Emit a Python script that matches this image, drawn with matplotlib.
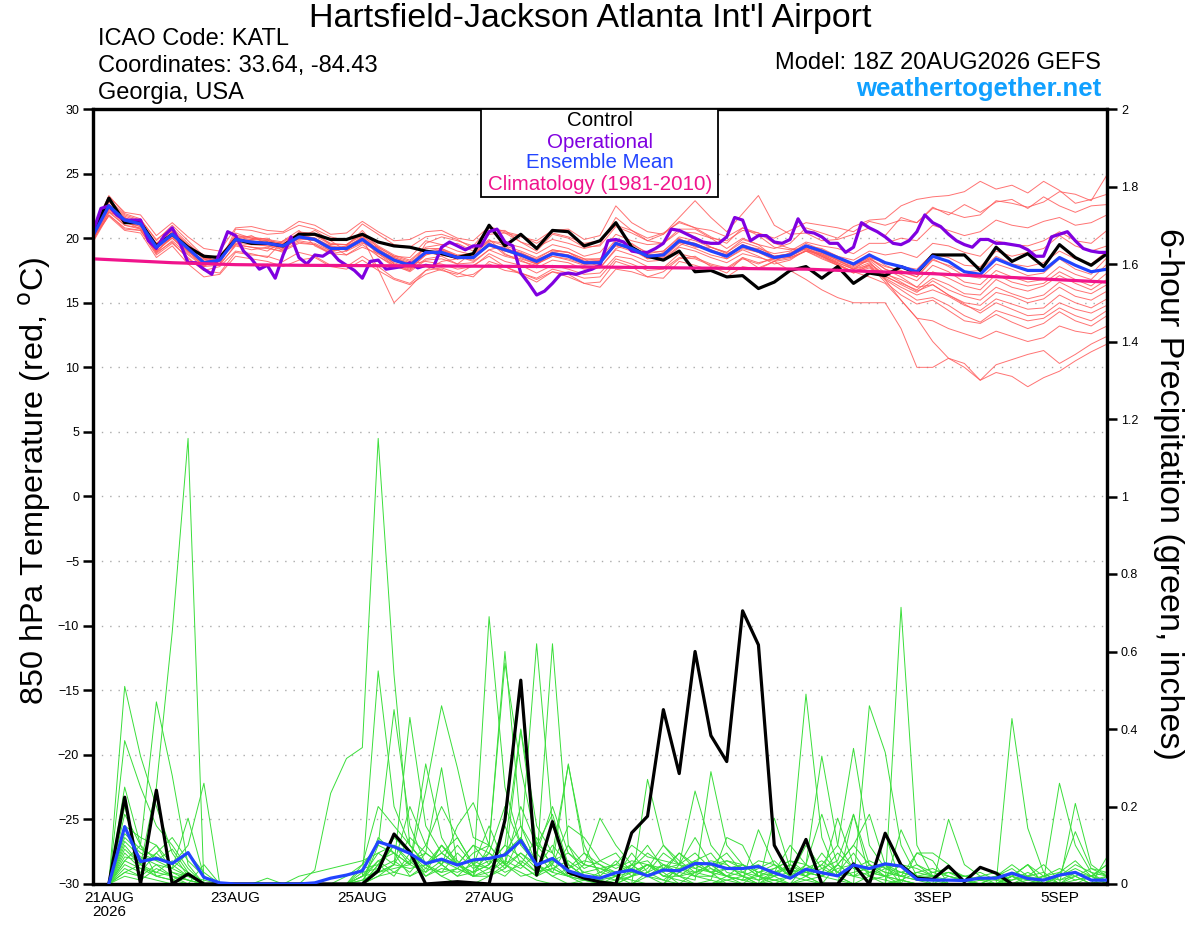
import numpy as np
import pandas as pd
import matplotlib
matplotlib.use('Agg')
from matplotlib import pyplot as plt
from matplotlib.patches import Rectangle

plt.rcParams['font.family'] = ['Liberation Sans', 'DejaVu Sans']

# valid times
t_temp = pd.date_range('2026-08-20 18:00', periods=65, freq='6h')
t_oper = pd.date_range('2026-08-20 18:00', periods=129, freq='3h')
t_prec = pd.date_range('2026-08-21 00:00', periods=64, freq='6h')

tick_dates = pd.to_datetime(['2026-08-21', '2026-08-23', '2026-08-25', '2026-08-27',
                             '2026-08-29', '2026-09-01', '2026-09-03', '2026-09-05'])
tick_labels = ['21AUG\n2026', '23AUG', '25AUG', '27AUG', '29AUG', '1SEP', '3SEP', '5SEP']

# 850 hPa temperature (C)
control_t = [20.3, 23.1, 21.2, 21.2, 19.4, 20.3, 19.3, 18.6, 18.5, 19.9, 19.6, 19.6, 19.4,
             20.3, 20.3, 19.9, 19.9, 20.3, 19.7, 19.4, 19.3, 19.0, 18.8, 18.5, 18.8, 21.0,
             19.4, 20.3, 19.2, 20.6, 20.5, 19.4, 19.8, 21.2, 19.3, 18.6, 18.3, 19.0, 17.4,
             17.5, 17.0, 17.1, 16.1, 16.6, 17.5, 17.8, 16.9, 17.8, 16.5, 17.3, 17.1, 17.8,
             17.3, 18.7, 18.7, 18.7, 17.5, 19.3, 18.2, 18.8, 17.8, 19.5, 18.5, 17.9, 18.8]
mean_t = [20.2, 22.5, 21.4, 21.1, 19.3, 20.3, 19.2, 18.1, 18.3, 19.9, 19.7, 19.6, 19.4,
          20.1, 19.9, 19.2, 19.2, 19.9, 19.0, 18.3, 17.9, 18.9, 18.9, 18.5, 18.5, 19.5,
          19.1, 18.7, 18.2, 18.8, 18.6, 18.1, 18.1, 19.6, 19.2, 18.6, 18.7, 19.8, 19.5,
          19.0, 18.6, 19.4, 19.0, 18.5, 18.7, 19.4, 19.0, 18.5, 18.0, 18.7, 18.1, 17.8,
          17.4, 18.6, 18.2, 17.4, 17.2, 18.4, 17.9, 17.5, 17.5, 18.5, 17.9, 17.4, 17.6]
oper_t = [20.5, 22.3, 22.5, 21.8, 21.4, 21.4, 21.4, 19.8, 19.2, 20.2, 20.8, 19.6, 18.1,
          18.1, 17.6, 17.2, 18.9, 20.5, 20.2, 19.0, 18.4, 17.6, 17.9, 16.9, 18.7, 20.1,
          18.5, 18.0, 18.7, 18.6, 19.0, 18.3, 17.9, 17.5, 16.9, 18.2, 18.3, 17.6, 17.7,
          17.8, 18.1, 17.7, 17.9, 17.8, 19.3, 19.7, 19.4, 19.1, 19.4, 19.4, 20.5, 20.7,
          19.7, 19.4, 17.3, 16.5, 15.6, 15.9, 16.5, 17.2, 17.3, 17.2, 17.4, 17.6, 17.9,
          19.8, 19.9, 19.7, 19.0, 18.9, 18.9, 19.2, 19.6, 20.7, 20.6, 20.3, 20.0, 19.7,
          19.6, 19.6, 20.1, 21.6, 21.4, 19.8, 20.2, 20.2, 19.7, 19.6, 19.9, 21.5, 20.5,
          20.4, 20.1, 19.6, 19.6, 18.9, 19.3, 21.2, 20.8, 20.5, 20.1, 19.6, 19.5, 19.8,
          20.5, 21.8, 21.2, 20.9, 20.3, 19.8, 19.5, 19.3, 19.9, 19.9, 19.6, 19.6, 19.5,
          19.4, 19.1, 18.6, 18.6, 20.1, 20.3, 20.5, 19.8, 19.2, 19.0, 18.9, 18.9]
clim_dates = pd.to_datetime(['2026-08-20 18:00', '2026-08-22 00:00', '2026-08-23 00:00',
                             '2026-08-24 00:00', '2026-08-26 00:00', '2026-08-28 00:00',
                             '2026-08-30 00:00', '2026-09-01 00:00', '2026-09-03 00:00',
                             '2026-09-05 18:00'])
clim_t = [18.4, 18.1, 17.95, 17.9, 17.85, 17.8, 17.7, 17.6, 17.25, 16.6]

members_t = [
    [20.4, 22.8, 21.6, 21.0, 19.6, 20.6, 19.5, 18.4, 18.0, 20.2, 20.1, 19.9, 19.0, 20.5, 20.3, 19.6, 19.5, 20.4, 19.4, 18.7, 18.3,
     19.3, 19.5, 19.0, 18.7, 19.8, 19.6, 19.3, 18.8, 19.5, 19.2, 18.6, 18.9, 20.3, 19.8, 19.5, 19.6, 20.5, 20.4, 20.0, 19.8, 20.6, 20.4,
     20.0, 20.6, 21.2, 21.0, 20.8, 20.5, 21.3, 21.0, 21.4, 21.2, 22.3, 22.0, 21.6, 21.8, 22.9, 22.7, 22.4, 22.8, 23.6, 23.4, 22.9, 24.9],
    [20.0, 22.1, 21.0, 20.8, 19.0, 20.0, 18.8, 17.9, 18.5, 19.5, 19.3, 19.0, 19.8, 20.6, 19.4, 18.8, 19.0, 20.2, 18.6, 17.8, 17.5,
     18.4, 18.6, 18.0, 18.9, 19.9, 18.8, 18.2, 17.9, 19.0, 18.9, 18.4, 17.7, 19.2, 19.6, 18.8, 18.4, 19.4, 20.1, 19.3, 18.9, 19.9, 19.5,
     19.2, 19.6, 20.8, 20.4, 20.0, 20.9, 21.4, 21.5, 22.5, 23.0, 23.2, 23.3, 23.6, 24.4, 23.8, 24.1, 23.5, 24.4, 23.7, 22.7, 23.0, 23.4],
    [20.6, 23.0, 21.8, 21.4, 19.9, 20.8, 19.6, 18.5, 18.2, 20.4, 20.0, 19.8, 19.6, 20.0, 20.6, 19.8, 19.0, 19.6, 19.3, 18.6, 18.5,
     19.8, 19.5, 19.6, 19.0, 20.3, 20.4, 20.1, 19.8, 20.6, 20.7, 19.9, 20.2, 22.5, 21.2, 20.5, 20.3, 21.6, 22.9, 21.6, 20.5, 21.9, 23.3,
     21.0, 20.3, 20.4, 19.8, 19.9, 20.3, 20.8, 20.2, 21.6, 21.2, 22.4, 21.8, 22.6, 22.0, 22.8, 23.0, 22.3, 23.2, 22.5, 22.0, 22.5, 22.6],
    [20.1, 22.3, 21.1, 21.5, 19.2, 20.0, 19.0, 17.8, 18.6, 19.7, 19.9, 20.0, 19.3, 19.8, 19.6, 19.0, 19.4, 20.6, 19.2, 18.0, 17.6,
     18.7, 19.1, 18.6, 18.2, 19.1, 19.4, 18.5, 18.0, 18.6, 18.3, 17.9, 18.3, 19.4, 19.0, 18.8, 19.0, 20.0, 19.3, 19.3, 18.8, 19.3, 19.2,
     18.8, 19.0, 19.7, 19.4, 19.2, 18.8, 19.6, 19.6, 20.0, 19.8, 21.0, 20.6, 20.2, 20.5, 21.4, 21.0, 20.8, 21.3, 21.6, 21.0, 21.2, 21.8],
    [19.9, 21.8, 20.8, 20.6, 18.9, 19.7, 18.4, 17.5, 17.8, 19.0, 18.8, 18.5, 19.8, 20.3, 20.0, 19.4, 18.7, 19.3, 18.8, 17.9, 17.7,
     17.8, 17.5, 17.2, 17.9, 18.6, 17.8, 17.2, 16.6, 17.4, 17.0, 16.5, 16.6, 18.2, 17.8, 17.0, 17.4, 18.4, 18.6, 17.8, 17.3, 18.5, 17.7,
     18.2, 18.9, 19.4, 19.2, 18.6, 18.3, 19.0, 18.7, 18.9, 18.5, 19.6, 19.4, 18.9, 18.6, 19.8, 19.5, 19.4, 19.8, 20.5, 19.8, 19.6, 20.6],
    [20.3, 22.6, 21.5, 21.2, 19.4, 20.5, 19.3, 18.0, 18.3, 20.0, 19.5, 19.7, 19.2, 20.0, 19.8, 19.4, 19.2, 19.8, 18.9, 18.2, 18.0,
     18.9, 18.7, 18.4, 18.6, 19.4, 19.0, 18.8, 18.4, 19.1, 18.9, 18.2, 18.2, 19.5, 19.1, 18.4, 18.9, 19.7, 19.4, 19.1, 18.4, 19.2, 18.9,
     18.3, 18.5, 19.0, 18.8, 18.3, 17.9, 18.5, 18.1, 17.8, 17.6, 18.8, 18.5, 17.9, 17.8, 19.0, 18.6, 18.9, 19.2, 20.2, 19.4, 19.0, 19.4],
    [20.0, 22.2, 21.2, 20.9, 19.0, 20.1, 18.9, 18.2, 18.4, 19.6, 19.5, 19.4, 19.1, 19.7, 19.5, 18.9, 19.3, 20.1, 19.1, 18.5, 18.1,
     19.0, 19.2, 18.6, 18.3, 19.7, 18.7, 18.4, 18.0, 18.6, 18.4, 18.0, 18.0, 19.8, 19.4, 18.4, 18.5, 19.6, 19.2, 18.7, 18.4, 19.1, 18.6,
     18.0, 18.3, 19.1, 18.6, 18.1, 17.6, 18.4, 17.8, 17.5, 17.0, 18.3, 17.9, 17.4, 17.5, 18.6, 18.0, 17.8, 18.1, 19.0, 18.4, 18.0, 19.0],
    [20.5, 22.9, 21.3, 20.7, 19.5, 20.4, 19.0, 18.3, 18.7, 19.9, 20.2, 19.5, 19.5, 20.2, 20.0, 19.3, 19.1, 19.7, 18.9, 18.4, 17.8,
     18.9, 18.8, 18.4, 18.8, 19.4, 19.2, 18.9, 18.3, 18.9, 18.7, 18.3, 18.4, 19.5, 19.3, 18.7, 18.8, 19.8, 19.6, 19.1, 18.7, 19.5, 19.0,
     18.6, 18.8, 19.6, 19.1, 18.6, 17.9, 18.8, 17.9, 17.4, 17.0, 18.4, 17.8, 17.1, 16.9, 18.0, 17.6, 17.1, 17.3, 18.4, 17.6, 17.2, 18.5],
    [19.8, 22.0, 21.6, 21.0, 18.9, 20.2, 19.4, 18.7, 18.0, 19.4, 19.1, 19.3, 18.9, 20.4, 20.4, 19.5, 19.5, 20.3, 19.0, 18.0, 17.5,
     19.6, 20.1, 19.8, 19.4, 20.8, 20.4, 19.7, 19.3, 19.9, 19.6, 19.2, 19.5, 21.6, 20.6, 19.8, 20.3, 21.3, 20.8, 20.1, 19.6, 20.8, 20.2,
     19.3, 19.1, 19.2, 18.7, 18.2, 17.8, 18.4, 17.6, 17.2, 16.7, 17.9, 17.4, 16.6, 16.4, 17.5, 17.0, 16.6, 16.8, 17.8, 17.2, 16.8, 18.0],
    [20.0, 21.7, 20.6, 20.4, 18.5, 19.4, 18.0, 17.0, 17.2, 18.6, 18.4, 18.2, 17.8, 18.3, 18.5, 17.8, 17.6, 18.3, 17.5, 16.8, 16.4,
     17.2, 17.6, 17.0, 17.2, 18.0, 17.5, 17.3, 16.8, 17.4, 17.2, 16.5, 16.2, 17.6, 17.4, 17.0, 16.9, 18.2, 17.9, 17.5, 17.0, 17.8, 17.6,
     18.2, 18.4, 19.0, 18.5, 17.9, 17.4, 18.0, 17.2, 16.8, 16.2, 17.4, 16.9, 16.3, 16.0, 17.2, 16.6, 16.3, 16.5, 17.4, 16.8, 16.3, 17.3],
    [20.8, 23.2, 22.0, 21.8, 20.2, 21.2, 20.1, 19.2, 19.0, 20.8, 20.9, 20.6, 20.5, 21.3, 21.0, 20.3, 20.4, 21.3, 20.5, 19.8, 19.9,
     20.5, 20.6, 20.0, 19.8, 20.9, 20.5, 20.2, 19.6, 20.4, 20.1, 19.6, 19.8, 21.0, 20.6, 20.0, 20.4, 21.2, 20.8, 20.6, 20.1, 20.8, 20.4,
     19.6, 19.2, 19.1, 18.6, 18.0, 17.3, 17.9, 17.0, 16.5, 16.0, 16.9, 16.4, 15.7, 15.6, 16.8, 16.2, 15.9, 16.3, 17.1, 16.5, 16.0, 16.8],
    [20.1, 22.5, 21.3, 20.9, 19.4, 20.3, 19.2, 18.2, 18.5, 20.1, 19.9, 19.8, 19.6, 20.3, 19.9, 19.3, 19.3, 20.0, 18.8, 18.1, 17.7,
     18.7, 19.0, 18.6, 18.6, 19.5, 19.2, 18.8, 18.3, 18.8, 18.6, 18.2, 18.3, 19.6, 19.3, 18.6, 18.7, 19.7, 19.4, 19.0, 18.7, 19.5, 19.1,
     18.6, 18.8, 19.3, 18.8, 18.1, 17.6, 18.1, 17.1, 16.4, 15.8, 16.7, 16.0, 15.5, 15.2, 16.2, 15.7, 15.3, 15.6, 16.6, 16.0, 15.7, 16.4],
    [20.3, 22.4, 21.2, 21.3, 19.2, 20.2, 19.0, 17.9, 18.4, 20.0, 19.7, 19.7, 19.5, 19.9, 20.0, 19.2, 19.4, 20.0, 19.0, 18.5, 18.0,
     18.2, 18.0, 17.6, 17.8, 18.8, 18.2, 17.9, 17.3, 17.9, 17.6, 17.2, 17.3, 18.6, 18.4, 17.8, 17.7, 18.8, 18.5, 18.0, 17.7, 18.5, 18.1,
     18.4, 18.7, 19.3, 18.9, 18.3, 17.7, 18.3, 17.3, 16.6, 15.9, 16.4, 15.6, 15.0, 14.8, 15.8, 15.5, 15.0, 15.3, 16.2, 15.5, 15.2, 15.9],
    [20.0, 22.6, 21.5, 21.1, 19.3, 20.4, 19.3, 18.1, 18.2, 19.8, 19.6, 19.4, 19.3, 20.2, 19.9, 19.3, 19.1, 19.9, 19.2, 18.4, 18.0,
     18.9, 19.1, 18.5, 18.6, 19.6, 19.2, 18.8, 18.3, 18.9, 18.7, 18.1, 18.2, 19.7, 19.1, 18.5, 18.8, 19.9, 19.6, 19.1, 18.6, 19.4, 19.0,
     18.5, 18.6, 19.2, 18.6, 17.9, 17.3, 17.7, 16.9, 16.2, 15.6, 16.0, 15.5, 14.8, 14.4, 15.3, 14.9, 14.5, 14.6, 15.6, 15.0, 14.6, 15.3],
    [20.2, 22.3, 21.5, 21.0, 19.5, 20.2, 19.4, 18.4, 18.3, 19.8, 19.8, 19.6, 19.2, 20.0, 19.8, 19.0, 19.2, 19.9, 18.9, 18.3, 17.8,
     18.8, 18.8, 18.4, 18.5, 19.4, 19.1, 18.7, 18.0, 18.8, 18.6, 18.0, 18.0, 19.5, 19.2, 18.6, 18.6, 19.7, 19.5, 19.0, 18.6, 19.4, 19.0,
     18.5, 18.7, 19.4, 19.0, 18.4, 17.9, 18.5, 17.6, 17.0, 16.2, 16.4, 15.6, 14.9, 14.2, 15.0, 14.5, 14.0, 14.1, 15.0, 14.5, 14.2, 14.8],
    [20.3, 22.5, 21.4, 21.2, 19.2, 20.4, 19.1, 18.0, 18.2, 20.0, 19.8, 19.6, 19.5, 20.0, 20.0, 19.3, 19.1, 20.0, 17.6, 15.0, 16.2,
     17.5, 18.2, 18.4, 18.5, 19.5, 19.0, 18.6, 18.1, 18.8, 18.6, 18.1, 18.1, 19.6, 19.2, 18.6, 18.7, 19.8, 19.5, 19.0, 18.6, 19.3, 18.9,
     18.4, 18.6, 19.2, 18.7, 18.0, 17.4, 17.8, 16.8, 16.0, 15.2, 15.4, 14.8, 14.0, 13.5, 14.4, 14.0, 13.6, 13.8, 14.6, 14.0, 13.6, 14.4],
    [19.7, 21.8, 20.7, 20.6, 18.7, 19.6, 18.5, 17.5, 17.3, 18.9, 18.7, 18.6, 18.2, 18.9, 18.6, 17.9, 17.8, 18.6, 17.8, 16.9, 16.5,
     17.5, 17.7, 17.3, 17.0, 18.2, 17.8, 17.3, 16.9, 17.6, 17.3, 16.9, 17.0, 18.4, 18.0, 17.5, 17.6, 18.5, 18.4, 17.9, 17.6, 18.4, 18.0,
     18.5, 18.7, 19.4, 18.9, 18.3, 17.6, 17.9, 16.6, 15.6, 14.9, 15.2, 14.4, 13.6, 13.4, 14.1, 13.5, 13.0, 13.4, 14.3, 13.6, 13.2, 14.0],
    [20.6, 23.3, 21.9, 21.5, 19.8, 21.0, 19.8, 18.6, 18.0, 20.7, 20.6, 20.3, 20.4, 21.0, 20.7, 20.1, 19.8, 21.1, 20.3, 19.5, 19.3,
     20.1, 20.3, 19.9, 19.2, 20.6, 20.6, 19.7, 19.0, 20.3, 20.0, 19.3, 19.4, 20.9, 20.4, 19.8, 19.6, 20.7, 20.7, 20.0, 19.2, 20.0, 19.5,
     18.5, 18.7, 19.4, 19.0, 18.5, 18.0, 18.2, 16.8, 15.2, 13.8, 13.6, 13.0, 12.6, 12.2, 12.8, 12.4, 12.0, 12.3, 13.2, 12.8, 12.6, 13.2],
    [20.4, 22.9, 21.7, 21.3, 19.6, 20.6, 19.4, 18.4, 18.6, 20.2, 20.0, 19.9, 19.7, 20.4, 20.2, 19.5, 19.5, 20.2, 19.3, 18.6, 18.2,
     19.2, 19.2, 18.7, 18.8, 19.8, 19.4, 19.0, 18.5, 19.1, 18.9, 18.4, 18.4, 19.9, 19.5, 18.9, 19.0, 20.1, 19.8, 19.3, 18.9, 19.7, 19.3,
     18.6, 18.5, 19.0, 18.4, 17.9, 17.4, 17.0, 16.5, 15.2, 13.8, 12.0, 10.7, 10.0, 9.0, 10.2, 10.6, 11.0, 11.3, 10.3, 11.0, 11.8, 12.4],
    [19.9, 22.0, 21.0, 20.7, 18.8, 19.8, 18.7, 17.8, 17.9, 19.5, 19.3, 19.2, 19.0, 19.6, 19.5, 18.8, 18.7, 19.5, 18.6, 17.9, 17.4,
     18.3, 18.4, 18.0, 18.1, 19.1, 18.6, 18.3, 17.7, 18.3, 18.1, 17.6, 17.7, 19.1, 18.7, 18.2, 18.3, 19.3, 19.0, 18.5, 18.1, 18.8, 18.5,
     18.2, 17.5, 16.8, 16.0, 15.4, 15.0, 15.0, 15.0, 13.0, 10.0, 10.0, 10.7, 10.3, 9.0, 9.6, 9.3, 8.5, 9.2, 9.7, 10.5, 11.2, 11.8],
]

# 6-hour precipitation (inches)
control_p = [0, .224, 0, .242, 0, .026, 0, 0, 0, 0, 0, 0, 0, 0, 0, 0,
             0, .034, .129, .083, 0, .003, .006, .003, 0, .165, .526, .023, .161, .03, .015, .005,
             0, .132, .175, .45, .285, .6, .383, .316, .705, .617, .10, .026, .115, 0, 0, .052,
             0, .131, .049, .015, .012, .046, .006, .043, .028, 0, 0, 0, 0, 0, 0, 0]
mean_p = [0, .148, .058, .066, .053, .081, .017, .003, 0, 0, 0, 0, 0, .003, .015, .023,
          .034, .109, .096, .079, .053, .064, .049, .062, .066, .075, .112, .049, .066, .034, .021, .015,
          .029, .036, .021, .036, .034, .053, .052, .04, .04, .045, .029, .015, .038, .029, .021, .049,
          .04, .052, .046, .012, .01, .01, .009, .015, .015, .028, .014, .01, .023, .03, .01, .01]

members_p = [
    [0, .51, .33, .2, .08, .02, 0, 0, 0, 0, 0, 0, 0, 0, 0, 0, 0, .05, .12, .08, .03, .1, .06, .02, .69, .25, .1, .05, .02, 0, 0, 0,
     0, .02, .05, .03, 0, 0, .01, 0, 0, 0, .02, .05, .49, .12, .02, 0, 0, 0, .01, 0, 0, 0, 0, 0, 0, .02, .05, .02, 0, 0, 0, 0],
    [0, .37, .25, .15, .1, .04, 0, 0, 0, 0, 0, 0, 0, 0, 0, 0, .02, .55, .2, .1, .05, .02, .04, .08, .1, .6, .15, .05, .03, .02, 0, 0,
     .02, .05, .1, .04, .02, .05, .03, 0, 0, 0, 0, .02, .05, .33, .1, .04, .02, 0, .01, 0, 0, 0, 0, 0, 0, 0, 0, .01, .26, .1, .03, 0],
    [0, .25, .1, .47, .28, .05, 0, 0, 0, 0, 0, 0, 0, 0, 0, .02, .05, .1, .45, .15, .05, .1, .05, .03, .05, .1, .4, .15, .08, .02, .01, 0,
     0, 0, .03, .08, .05, .12, .05, .02, .01, 0, .03, .1, .05, .02, .17, .05, .03, .02, .01, 0, 0, .02, .01, 0, 0, 0, 0, 0, 0, .03, .02, 0],
    [0, .2, .05, .25, .65, 1.15, 0, 0, 0, 0, 0, 0, 0, 0, 0, 0, 0, .02, .05, .43, .15, .08, .05, .02, .04, .08, .12, .05, .62, .1, .02, 0,
     .01, .03, .05, .02, .01, 0, 0, .02, .05, .03, .02, 0, .02, .05, .1, .35, .1, .04, .02, .01, 0, 0, 0, .01, .02, .04, .01, 0, 0, 0, 0, 0],
    [0, .15, .12, .1, .05, .1, .26, 0, 0, 0, 0, 0, 0, 0, 0, 0, 0, .1, .08, .05, .31, .12, .05, .1, .08, .05, .02, .03, .05, .31, .08, .05,
     .02, 0, .27, .1, .05, .02, .02, .01, 0, 0, .01, .02, .03, .05, .02, 0, .46, .34, .1, .02, 0, 0, 0, 0, 0, 0, 0, 0, .02, .05, .03, .02],
    [0, .1, .05, .08, .04, .17, .02, 0, 0, 0, 0, 0, 0, .036, .234, .324, .352, 1.15, .54, .1, .05, .02, 0, 0, .02, .05, .03, .01, 0, 0, .01, .03,
     .02, .01, 0, 0, .05, .24, .1, .05, .02, 0, 0, 0, .01, 0, 0, 0, 0, 0, .714, .1, .02, 0, 0, 0, 0, .02, 0, 0, 0, 0, 0, 0],
    [0, .08, .04, .03, .02, .01, 0, 0, 0, 0, 0, 0, .02, .03, .04, .05, .06, .08, .1, .05, .24, .46, .3, .12, .1, .05, .08, .04, .1, .05, .02, .01,
     0, .02, .03, .05, .02, .01, .29, .1, .05, .02, .01, 0, 0, 0, 0, 0, .02, .01, 0, 0, 0, .167, .05, .02, 0, 0, 0, 0, 0, 0, .02, .05],
    [0, .06, .1, .02, .01, 0, .05, 0, 0, 0, 0, 0, 0, 0, 0, 0, .02, .03, .05, .2, .1, .05, .15, .21, .1, .57, .3, .1, .05, .02, .01, 0,
     0, .05, .02, .01, 0, .03, .05, .02, .01, .14, .05, .02, .01, .02, .01, 0, 0, .13, 0, .08, .08, .05, 0, 0, 0, .427, .144, .03, 0, 0, 0, 0],
    [0, .12, .08, .06, .04, .02, 0, 0, 0, 0, .015, 0, 0, 0, 0, 0, 0, .05, .1, .08, .02, .05, .1, .05, .15, .05, .397, .1, .08, .307, .1, .02,
     .01, .02, .05, .02, .02, 0, 0, .01, .02, 0, .17, .04, .02, 0, 0, .18, .05, .02, 0, 0, 0, 0, 0, 0, 0, 0, 0, 0, 0, .208, .05, .02],
    [0, .04, .02, .01, 0, 0, 0, 0, 0, 0, 0, 0, 0, 0, 0, 0, 0, .12, .08, .05, .1, .2, .12, .05, .08, .2, .1, .62, .15, .05, .02, .01,
     .02, .08, .03, .01, .04, .02, .01, .12, .1, .02, 0, 0, 0, 0, .05, .1, .18, .05, 0, 0, 0, 0, 0, 0, .02, .05, .02, 0, 0, 0, 0, 0],
    [0, .05, .03, .08, .12, .06, .02, 0, 0, 0, 0, 0, 0, 0, 0, 0, .05, .2, .15, .1, .05, .08, .05, .1, .05, .15, .05, .02, .04, .02, .05, .17,
     .1, .05, .02, 0, .03, .02, .05, .08, .03, .01, .02, .05, .02, 0, 0, 0, 0, 0, .14, .05, .02, 0, 0, 0, 0, .02, .05, 0, .02, .135, .04, .02],
    [0, .03, .02, .05, .02, 0, 0, 0, 0, 0, 0, 0, 0, 0, 0, 0, 0, .03, .05, .12, .08, .3, .05, .02, .1, .05, .2, .1, .18, .05, .02, 0,
     0, 0, .02, .04, .08, .05, .03, .02, 0, .03, .05, .02, .03, .02, .05, .1, .05, .03, .02, .08, .06, 0, 0, 0, 0, 0, 0, 0, 0, 0, 0, .07],
    [0, .09, .05, .03, .06, .03, 0, 0, 0, 0, 0, 0, 0, 0, 0, 0, .01, .06, .03, .02, .05, .08, .12, .05, .02, .08, .15, .08, .2, .08, .05, .04,
     .05, .1, .07, .06, .05, .08, .04, .02, .01, .02, .01, 0, .05, .18, .05, .02, .01, .02, .03, .05, .03, .02, .01, 0, 0, .02, .05, 0, .03, .06, .02, 0],
    [0, .07, .06, .1, .03, .02, 0, 0, 0, 0, 0, 0, 0, 0, 0, 0, .03, .04, .1, .06, .08, .05, .02, .03, .05, .1, .07, .03, .05, .15, .12, .06,
     .04, .06, .05, .03, .08, .04, .06, .05, .02, .04, .06, .02, .1, .04, .06, .18, .02, .04, .05, .02, .01, 0, 0, 0, 0, .01, .03, .01, 0, .02, .04, .03],
    [0, .11, .07, .05, .04, .08, .03, 0, 0, 0, 0, 0, 0, 0, 0, 0, .02, .08, .05, .04, .05, .03, .08, .04, .06, .03, .05, .12, .04, .06, .03, .02,
     .06, .02, .04, .1, .06, .03, .02, .04, .05, .02, .04, .06, .03, .02, .04, .05, .03, .02, .05, .04, .02, .03, .02, .01, 0, .03, .02, .05, .01, .03, .01, .02],
    [0, .02, .01, .04, .02, .01, 0, 0, 0, 0, 0, 0, 0, 0, 0, 0, .04, .05, .02, .08, .04, .1, .05, .03, .08, .04, .12, .05, .06, .04, .08, .03,
     .05, .04, .08, .05, .03, .06, .08, .03, .02, .01, .03, .04, .02, .08, .03, .02, .05, .03, .02, .03, .04, .02, .01, 0, .02, 0, .01, .02, .01, .02, 0, .01],
    [0, .13, .09, .07, .05, .02, .01, 0, 0, 0, 0, 0, 0, 0, 0, 0, .01, .03, .04, .05, .03, .06, .04, .02, .03, .06, .04, .08, .03, .1, .05, .04,
     .03, .05, .06, .02, .04, .03, .05, .06, .04, .05, .02, .03, .04, .06, .03, .08, .02, .05, .03, .02, .03, .04, .02, .01, .01, 0, .02, .03, 0, .01, .02, .03],
    [0, .18, .1, .06, .09, .03, 0, 0, 0, 0, 0, 0, 0, 0, 0, 0, 0, .04, .06, .03, .08, .05, .02, .06, .04, .08, .05, .02, .06, .08, .04, .06,
     .08, .03, .02, .04, .05, .04, .03, .06, .05, .03, .04, .06, .05, .03, .08, .04, .06, .04, .03, .02, .02, .03, .01, .02, .03, .02, 0, .02, .04, .02, 0, .02],
    [0, .03, .05, .02, .01, .03, 0, 0, 0, 0, 0, 0, 0, 0, 0, 0, .02, .06, .08, .02, .04, .03, .04, .02, .02, .04, .08, .05, .02, .04, .06, .05,
     .03, .04, .02, .05, .04, .06, .03, .04, .03, .06, .05, .03, .02, .04, .02, .03, .04, .02, .01, .03, .02, .01, .02, .03, .01, .02, .01, .02, .03, .01, .02, .05],
    [0, .06, .04, .02, .03, .01, 0, 0, 0, 0, 0, 0, 0, 0, 0, 0, 0, .02, .03, .06, .02, .04, .03, .05, .04, .02, .06, .03, .04, .02, .03, .04,
     .02, .03, .05, .04, .02, .03, .04, .02, .03, .02, .03, .05, .03, .02, .05, .02, .03, .05, .02, .01, .02, .03, .02, .01, .02, .01, .02, .01, .02, .04, .02, .01],
]

# colours
c_member_t = '#ff5a5a'
c_member_p = '#3ade3a'
c_oper = '#8000e0'
c_mean = '#2244ff'
c_clim = '#f0148c'

fig = plt.figure(figsize=(12, 9.27), dpi=100)
ax = fig.add_axes([93 / 1200, 1 - 884 / 927, 1014 / 1200, 775 / 927])
ax2 = ax.twinx()

for row in members_t:
    ax.plot(t_temp[:len(row)], row, color=c_member_t, lw=0.7, alpha=0.85, zorder=2)
ax.plot(t_temp, control_t, color='black', lw=2.3, zorder=4)
ax.plot(t_oper, oper_t, color=c_oper, lw=2.3, zorder=4)
ax.plot(t_temp, mean_t, color=c_mean, lw=2.3, zorder=5)
ax.plot(clim_dates, clim_t, color=c_clim, lw=2.3, zorder=6)

for row in members_p:
    ax2.plot(t_prec[:len(row)], row, color=c_member_p, lw=0.7, zorder=2)
ax2.plot(t_prec, control_p, color='black', lw=2.3, zorder=4)
ax2.plot(t_prec, mean_p, color=c_mean, lw=2.3, zorder=5)

ax.set_xlim(pd.Timestamp('2026-08-20 18:00'), pd.Timestamp('2026-09-05 18:00'))
ax.set_ylim(-30, 30)
ax2.set_ylim(0, 2)
ax.set_yticks(range(-30, 31, 5))
ax2.set_yticks(np.arange(0, 2.01, 0.2))
ax2.set_yticklabels(['%g' % round(v, 1) for v in np.arange(0, 2.01, 0.2)])
ax.set_xticks(tick_dates)
ax.set_xticklabels(tick_labels, fontsize=11, linespacing=1.05)
ax.tick_params(axis='x', length=0, pad=5)
ax.tick_params(axis='y', direction='out', length=7, width=1.8, labelsize=9, pad=3)
ax2.tick_params(axis='y', direction='out', length=7, width=1.8, labelsize=9, pad=3)
for yv in range(-25, 30, 5):
    ax.axhline(yv, color='#aaaaaa', lw=1.0, ls=(0, (1, 5)), zorder=1)

for a in (ax, ax2):
    for s in a.spines.values():
        s.set_linewidth(2.3)

ax.set_ylabel('850 hPa Temperature (red, $^{\\rm o}$C)', fontsize=23.3, va='center', ha='center')
ax.yaxis.set_label_coords(-0.058, 0.52)
ax2.set_ylabel('6-hour Precipitation (green, inches)', fontsize=24.5, rotation=-90, va='center', ha='center')
ax2.yaxis.set_label_coords(1.061, 0.503)

fig.text(590 / 1200, 1 - 18 / 927, "Hartsfield-Jackson Atlanta Int'l Airport", fontsize=24.5, ha='center', va='center')
fig.text(98 / 1200, 1 - 39 / 927, 'ICAO Code: KATL', fontsize=17, ha='left', va='center')
fig.text(98 / 1200, 1 - 66 / 927, 'Coordinates: 33.64, -84.43', fontsize=17, ha='left', va='center')
fig.text(98 / 1200, 1 - 93 / 927, 'Georgia, USA', fontsize=17, ha='left', va='center')
fig.text(1101 / 1200, 1 - 63 / 927, 'Model: 18Z 20AUG2026 GEFS', fontsize=17, ha='right', va='center')
fig.text(1101 / 1200, 1 - 89 / 927, 'weathertogether.net', fontsize=18.5, ha='right', va='center',
         color='#10a0ff', fontweight='bold')

# legend box
fig.patches.append(Rectangle((481 / 1200, 1 - 197 / 927), 237 / 1200, 88 / 927, transform=fig.transFigure,
                             facecolor='white', edgecolor='black', lw=1.3, zorder=10))
leg_items = [('Control', 'black', 121), ('Operational', c_oper, 142),
             ('Ensemble Mean', c_mean, 163), ('Climatology (1981-2010)', c_clim, 185)]
for txt, col, yp in leg_items:
    fig.text(600 / 1200, 1 - yp / 927, txt, fontsize=14.8, color=col, ha='center', va='center', zorder=11)

fig.savefig('out.png', dpi=100)
